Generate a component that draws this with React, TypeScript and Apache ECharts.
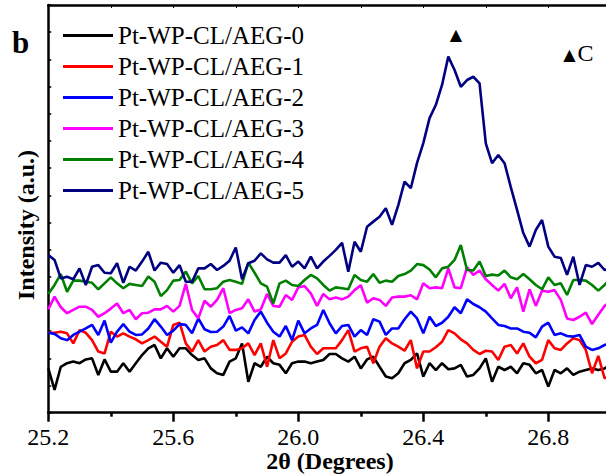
import React, { useEffect, useRef } from "react";
import * as echarts from "echarts";

// 2θ sampling of the scan (degrees)
const twoThetaStart = 25.2;
const twoThetaStep = 0.02;

const seriesNames = [
  "Pt-WP-CL/AEG-0",
  "Pt-WP-CL/AEG-1",
  "Pt-WP-CL/AEG-2",
  "Pt-WP-CL/AEG-3",
  "Pt-WP-CL/AEG-4",
  "Pt-WP-CL/AEG-5",
];
const seriesColors = ["#000000", "#ff0000", "#0000ff", "#ff00ff", "#008000", "#000080"];
const xTickLabels = ["25.2", "25.6", "26.0", "26.4", "26.8"];

// Intensity (a.u., stacked offsets as drawn)
const aeg0 = [163,84,169,182,188,182,196,200,139,196,151,151,182,151,182,212,237,249,200,237,206,237,237,212,194,200,163,145,139,188,200,255,114,182,169,206,182,176,145,182,188,188,182,188,194,216,216,200,188,206,163,196,206,169,133,127,145,182,194,218,133,182,157,182,160,163,176,133,139,163,200,114,169,157,169,145,182,176,145,157,96,157,145,163,139,151,157,163,157,163,176];
const aeg1 = [294,294,298,292,255,304,294,267,225,218,298,280,292,280,270,255,267,280,261,243,323,331,255,225,267,225,243,249,267,231,231,237,255,212,255,169,267,200,218,261,280,286,243,216,237,237,237,267,304,225,237,243,182,243,274,255,243,228,267,163,225,225,241,261,304,292,270,255,231,216,228,225,194,243,249,218,255,206,182,194,267,237,231,255,274,267,231,145,209,127,133];
const aeg2 = [294,290,274,267,286,298,310,323,286,339,258,298,326,298,286,288,310,344,317,286,302,326,323,292,347,307,297,298,317,356,302,314,292,341,372,331,298,280,319,267,339,292,310,323,378,329,292,319,323,280,304,286,344,335,286,310,310,344,372,347,292,353,319,331,353,388,366,417,400,388,372,347,323,319,310,310,298,294,277,317,331,286,292,282,280,286,243,231,237,249,255];
const aeg3 = [380,427,388,366,378,390,390,378,353,366,383,402,366,378,344,366,368,380,380,393,372,393,474,378,347,412,390,415,458,366,378,384,417,372,380,437,393,390,433,415,461,466,439,393,437,417,424,417,427,451,469,405,421,415,393,424,427,427,432,417,476,458,461,458,531,461,458,535,507,523,491,470,449,474,421,461,372,454,393,449,445,451,415,347,341,353,368,326,360,393,409];
const aeg4 = [437,470,510,445,486,486,482,478,454,476,498,476,458,474,470,466,501,482,429,451,486,488,519,476,503,454,454,458,482,488,482,474,552,515,476,464,402,476,486,470,466,488,507,494,470,449,461,458,454,507,488,482,510,478,486,482,503,510,523,547,543,527,498,531,537,562,617,525,523,556,503,508,505,523,498,491,510,491,470,454,498,470,476,433,488,488,486,470,449,470,494];
const aeg5 = [580,562,494,500,491,531,470,537,543,515,513,550,478,537,523,556,592,523,552,547,515,543,482,482,531,531,547,525,540,559,608,491,550,559,586,564,552,552,580,537,556,531,574,531,556,577,599,625,519,629,592,684,703,721,752,691,764,850,826,919,992,1084,1132,1206,1310,1261,1199,1224,1236,1212,991,918,948,918,830,746,661,611,672,709,611,574,569,507,574,470,543,537,551,525,532];

const seriesValues = [aeg0, aeg1, aeg2, aeg3, aeg4, aeg5];

export default function App() {
  const ref = useRef<HTMLDivElement>(null);

  useEffect(() => {
    if (!ref.current) return;
    const chart = echarts.init(ref.current, null, { renderer: "svg" });
    const serif = "'Liberation Serif', 'Times New Roman', serif";
    const angles = aeg0.map((_, i) => +(twoThetaStart + i * twoThetaStep).toFixed(2));

    const axisLineStyle = { color: "#000", width: 2.5 };

    chart.setOption({
      animation: false,
      backgroundColor: "#ffffff",
      grid: { left: 48.3, top: 5, right: -67.3, bottom: 63.3, containLabel: false, outerBoundsMode: "none" },
      xAxis: [
        {
          type: "value",
          position: "bottom",
          min: 25.2,
          max: 27.2,
          interval: 0.4,
          axisLine: { show: true, onZero: false, lineStyle: axisLineStyle },
          axisTick: { show: true, inside: false, length: 9, lineStyle: { color: "#000", width: 2.5 } },
          minorTick: { show: true, splitNumber: 2, length: 4, lineStyle: { color: "#000", width: 2.5 } },
          splitLine: { show: false },
          minorSplitLine: { show: false },
          axisLabel: {
            fontSize: 24,
            color: "#000",
            fontFamily: serif,
            margin: 12,
            showMaxLabel: false,
            formatter: (v: number) => {
              const s = v.toFixed(1);
              return xTickLabels.includes(s) ? s : "";
            },
          },
        },
        {
          type: "value",
          position: "top",
          min: 25.2,
          max: 27.2,
          interval: 0.2,
          axisLine: { show: true, onZero: false, lineStyle: axisLineStyle },
          axisTick: { show: true, inside: true, length: 3, lineStyle: { color: "#000", width: 1 } },
          axisLabel: { show: false },
          splitLine: { show: false },
        },
      ],
      yAxis: [
        {
          type: "value",
          min: 0,
          max: 1500,
          interval: 100,
          axisLine: { show: true, onZero: false, lineStyle: axisLineStyle },
          axisTick: { show: true, inside: true, length: 3, lineStyle: { color: "#000", width: 1.5 } },
          axisLabel: { show: false },
          splitLine: { show: false },
        },
      ],
      legend: {
        orient: "vertical",
        left: 63,
        top: 23,
        padding: 0,
        itemWidth: 50,
        itemHeight: 3,
        itemGap: 6,
        icon: "rect",
        textStyle: { fontSize: 25, fontFamily: serif, color: "#000", lineHeight: 24 },
        data: seriesNames,
      },
      series: seriesValues.map((vals, k) => ({
        name: seriesNames[k],
        type: "line",
        xAxisIndex: 0,
        yAxisIndex: 0,
        symbol: "none",
        data: vals.map((v, i) => [angles[i], v]),
        lineStyle: { color: seriesColors[k], width: 2.6 },
        itemStyle: { color: seriesColors[k] },
      })),
      graphic: [
        {
          type: "text",
          x: 330,
          y: 461,
          style: {
            text: "2θ (Degrees)",
            fontSize: 24,
            fontWeight: "bold",
            fontFamily: serif,
            fill: "#000",
            align: "center",
            verticalAlign: "middle",
          },
        },
        {
          type: "text",
          x: 26,
          y: 225,
          rotation: Math.PI / 2,
          style: {
            text: "Intensity (a.u.)",
            fontSize: 24,
            fontWeight: "bold",
            fontFamily: serif,
            fill: "#000",
            align: "center",
            verticalAlign: "middle",
          },
        },
        {
          type: "text",
          x: 20.5,
          y: 42,
          style: {
            text: "b",
            fontSize: 31,
            fontWeight: "bold",
            fontFamily: serif,
            fill: "#000",
            align: "center",
            verticalAlign: "middle",
          },
        },
        {
          type: "text",
          x: 456,
          y: 34,
          style: {
            text: "▲",
            fontSize: 16,
            fontFamily: "'DejaVu Sans'",
            fill: "#000",
            align: "center",
            verticalAlign: "middle",
          },
        },
        {
          type: "text",
          x: 569.5,
          y: 54,
          style: {
            text: "▲",
            fontSize: 16,
            fontFamily: "'DejaVu Sans'",
            fill: "#000",
            align: "center",
            verticalAlign: "middle",
          },
        },
        {
          type: "text",
          x: 577.5,
          y: 53,
          style: {
            text: "C",
            fontSize: 24,
            fontFamily: serif,
            fill: "#000",
            align: "left",
            verticalAlign: "middle",
          },
        },
      ],
    });

    return () => chart.dispose();
  }, []);

  return (
    <div
      ref={ref}
      style={{ position: "fixed", left: 0, top: 0, width: 606, height: 476, overflow: "hidden", background: "#fff" }}
    />
  );
}
